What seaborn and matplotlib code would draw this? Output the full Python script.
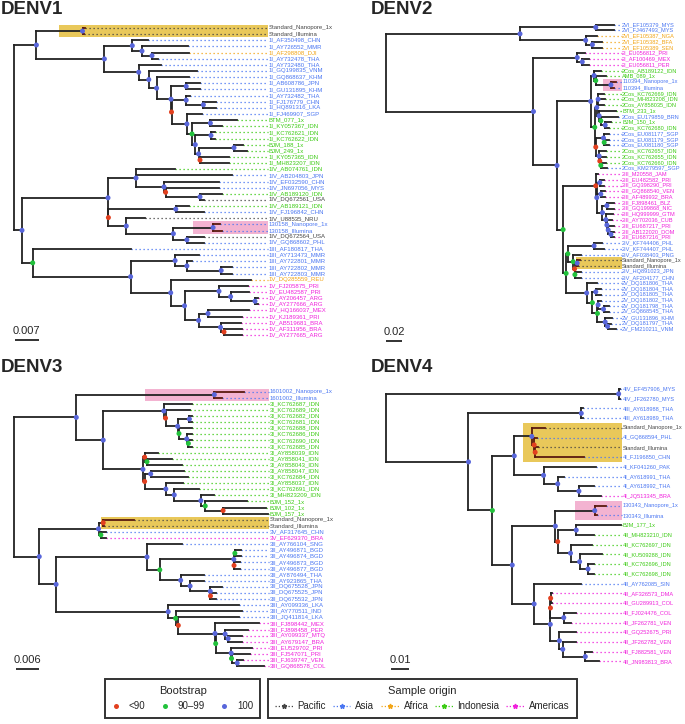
"""
Dengue virus phylogenies (DENV1-4): bootstrap support at nodes,
tip labels coloured by sample origin, study samples highlighted.
"""
import re

import matplotlib
matplotlib.use('Agg')
import matplotlib.pyplot as plt
import pandas as pd
import seaborn as sns
from matplotlib.collections import LineCollection
from matplotlib.lines import Line2D
from matplotlib.patches import Rectangle

# ---------------------------------------------------------------------------
# Data: trees in Newick; internal node label = bootstrap class
# (r: <90, g: 90-99, b: 100). Branch lengths in tree units, see SCALE_*.
# ---------------------------------------------------------------------------
DENV1_TREE = (
    "(((Standard_Nanopore_1x:2.5,Standard_Illumina:1.5)b:46.1,"
    "((1I_AF350498_CHN:15.7,(1I_AY726552_MMR:45.5,(1I_AF298808_DJI:36.5,1I_AY732478_THA:6)b:10)b:9.7)b:27.9,"
    "(1I_AY732480_THA:22.3,(1I_GQ199835_VNM:48.2,(1I_GQ868637_KHM:31.9,"
    "((1I_AB608786_JPN:13.8,1I_GU131895_KHM:13.8)b:15.2,"
    "((1I_AY732482_THA:3.4,(1I_FJ176779_CHN:12.1,1I_HQ891316_LKA:12.1)b:17.2)b:14.7,"
    "(1I_FJ469907_SGP:15.1,"
    "((BTM_077_1x:26.6,1I_KY057367_IDN:11.6)b:18.4,"
    "((1I_KC762621_IDN:4,1I_KC762622_IDN:4)b:15.7,"
    "((BJM_188_1x:9,BJM_249_1x:13)b:35.4,(1I_KY057365_IDN:29,1I_MH823207_IDN:29)r:1.4)b:3.3"
    ")b:3.3)g:5.1)b:15.4)r:0.5)b:14.4)b:7.8)b:10.1)b:34.3)b:68)b:22.4,"
    "(((1IV_AB074761_IDN:39,1IV_AB204803_JPN:96,(1IV_EF032590_CHN:55,(1IV_JN697056_MYS:53.4,"
    "(1IV_AB189120_IDN:22,1IV_DQ672561_USA:4)b:34.4)r:1.6)b:28)b:28,"
    "((1IV_AB189121_IDN:12.7,1IV_FJ196842_CHN:28.2)b:67.4,"
    "(1IV_U88535_NRU:18.5,((130158_Nanopore_1x:6.9,130158_Illumina:8.9)b:39.7,"
    "(1IV_DQ672564_USA:17.1,1IV_GQ868602_PHL:17.1)b:13.5)b:47.1)b:17.9)r:0.4)b:86,"
    "(1III_AF180817_THA:98.3,"
    "((1III_AY713473_MMR:23.9,(1III_AY722801_MMR:5.1,(1III_AY722802_MMR:10.8,1III_AY722803_MMR:10.8)b:34.3)b:11.8)b:44.5,"
    "(1V_DQ285559_REU:80.3,"
    "((1V_FJ205875_PRI:28.5,(1V_EU482587_PRI:18.4,(1V_AY206457_ARG:2.5,1V_AY277666_ARG:2.5)b:24.4)b:11.6)b:34.5,"
    "((1IV_HQ166037_MEX:41,1V_KJ189361_PRI:34)b:9.4,"
    "(1V_AB519681_BRA:20.5,(1V_AF311956_BRA:18,1V_AY277665_ARG:18)r:3.5)b:21.9)b:14.1"
    ")b:13.8)b:40.1)b:97.9)g:10.7)b:8);"
)

DENV2_TREE = (
    "(((2VI_EF105379_MYS:55,2VI_FJ467493_MYS:55)b:225,"
    "(2VI_EF105387_NGA:35,(2VI_EF105382_BFA:30,2VI_EF105389_SEN:30)b:20)b:195)b:398,"
    "((2I_EU056812_PRI:22,(2I_AF100469_MEX:20,2I_EU056811_PER:20)b:15)b:130,"
    "(((2Cos_AB189122_IDN:20,(AMB_089_1x:30,(110394_Nanopore_1x:15,110394_Illumina:8)b:45)g:5)b:10,"
    "(((2Cos_KC762669_IDN:18,2Cos_MH823208_IDN:20,2Cos_AY858035_IDN:18)b:4,"
    "(BTM_233_1x:50,(2Cos_EU179859_BRN:50,(BJM_150_1x:17,2Cos_KC762680_IDN:12)b:13)g:5)b:7)b:6,"
    "((2Cos_EU081177_SGP:17,(2Cos_EU081179_SGP:15,2Cos_EU081180_SGP:15)g:2)b:23,"
    "(2Cos_KC762657_IDN:20,(2Cos_KC762655_IDN:18,(2Cos_KC762660_IDN:15,2Cos_KM279597_SGP:18)g:3)r:2)b:10)r:3"
    ")g:12)b:100,"
    "((2III_M20558_JAM:7,((2III_EU482582_PRI:11,2III_GQ398290_PRI:11)b:9,"
    "(2III_GQ868540_VEN:12,2III_AF489932_BRA:12)b:12,"
    "((2III_FJ898461_BLZ:22,2III_GQ199868_NIC:22)b:13,(2III_HQ999999_GTM:20,(2III_AY702036_CUB:14,"
    "(2III_EU687217_PRI:16,(2III_AB122020_DOM:10,2III_EU687216_PRI:10)b:8)b:4)b:3)b:10)b:17)b:3)r:97,"
    "(((2IV_KF744406_PHL:25,2IV_KF744407_PHL:28)b:78,"
    "(2IV_AF038403_PNG:22,((Standard_Nanopore_1x:7,Standard_Illumina:3)b:8,"
    "(2IV_HQ891023_JPN:17,2IV_AF204177_CHN:17)g:1)r:4)g:16)g:5,"
    "(2V_DQ181806_THA:32,((2V_DQ181804_THA:17,2V_DQ181805_THA:17)b:10,"
    "((2V_DQ181802_THA:10,(2V_DQ181798_THA:17,2V_GQ868545_THA:17)b:16)b:2,"
    "(2V_GU131896_KHM:19,(2V_DQ181797_THA:10,2V_FM210211_VNM:25)b:7)b:23)g:15)g:17)b:61"
    ")g:9)g:18)b:70)b:438);"
)

DENV3_TREE = (
    "(((1601002_Nanopore_1x:88,1601002_Illumina:23)b:410,"
    "((3I_KC762687_IDN:83,(3I_KC762689_IDN:73,((3I_KC762682_IDN:7,3I_KC762681_IDN:7)b:35,"
    "(3I_KC762688_IDN:38,(3I_KC762686_IDN:15,(3I_KC762690_IDN:10,3I_KC762685_IDN:10)g:5)b:23)g:4)b:36)r:5)b:180,"
    "((3I_AY858039_IDN:40,(3I_AY858041_IDN:75,3I_AY858043_IDN:103)g:7)r:5,"
    "((3I_AY858047_IDN:100,3I_KC762684_IDN:112)b:18,(3I_AY858037_IDN:52,(3I_KC762691_IDN:72,"
    "(3I_MH823209_IDN:40,(BJM_152_1x:125,(BJM_102_1x:127,BJM_157_1x:132)r:53)g:13)b:79)b:25)b:63)r:5"
    ")b:118)b:80)b:185,"
    "(((Standard_Nanopore_1x:91,Standard_Illumina:3)r:14,(3V_AF317645_CHN:15,3V_EF629370_BRA:15)g:7)b:176,"
    "((3II_AY766104_SNG:103,(((3II_AY496871_BGD:17,3II_AY496874_BGD:17)g:3,"
    "(3II_AY496873_BGD:18,3II_AY496877_BGD:18)r:0.5)b:220,"
    "(3II_AY876494_THA:68,(3II_AY923865_THA:40,(3II_DQ675528_JPN:35,"
    "(3II_DQ675525_JPN:15,3II_DQ675532_JPN:15)r:0.5)b:60)b:28)b:62)g:38)b:270,"
    "(3III_AY099336_LKA:210,(3III_AY770511_IND:198,(3III_JQ411814_LKA:180,(3III_FJ898442_MEX:131,"
    "((3III_FJ898458_PER:68,(3III_AY099337_MTQ:40,3III_AY679147_BRA:40)b:9)b:28,"
    "(3III_EU529702_PRI:63,(3III_FJ547071_PRI:56,(3III_FJ639747_VEN:17,3III_GQ868578_COL:79)b:17)g:1)b:46"
    ")g:2)b:109)r:8)g:22)b:333)b:50)b:75);"
)

DENV4_TREE = (
    "((4IV_EF457906_MYS:5,4IV_JF262780_MYS:5)b:691,"
    "((4III_AY618988_THA:6,4III_AY618989_THA:6)b:335,"
    "(((Standard_Nanopore_1x:40,(4I_GQ868594_PHL:8,(Standard_Illumina:7,4I_FJ196850_CHN:145)r:3)r:7)b:52,"
    "(4I_KF041260_PAK:155,(4I_AY618991_THA:18,(4I_AY618992_THA:45,4I_JQ513345_BRA:65)b:63)b:42)b:87)b:65,"
    "(((130343_Nanopore_1x:33,130343_Illumina:8)b:117,((BJM_177_1x:133,4II_MH823210_IDN:53)b:55,"
    "(4II_KC762697_IDN:65,(4II_KU509288_IDN:68,(4II_KC762696_IDN:18,4II_KC762698_IDN:18)b:25)b:27)b:38)r:7)b:128,"
    "(4II_AY762085_SIN:138,(((4II_AF326573_DMA:4,4II_GU289913_COL:4)r:0.5,"
    "(4II_FJ024476_COL:35,4II_JF262781_VEN:20)b:39.5)r:0.5,"
    "(4II_GQ252675_PRI:50,(4II_JF262782_VEN:40,(4II_FJ882581_VEN:21,4II_JN983813_BRA:41)b:67)b:10)b:27"
    ")b:48)b:65)b:59)g:71)b:245);"
)

# scale bars: (label, length in tree units)
SCALE_DENV1 = ('0.007', 23.6)
SCALE_DENV2 = ('0.02', 47.5)
SCALE_DENV3 = ('0.006', 70)
SCALE_DENV4 = ('0.01', 53.5)

# highlighted clades: (first tip, last tip, colour key)
HILIGHT_DENV1 = [('Standard_Nanopore_1x', 'Standard_Illumina', 'std'),
                 ('130158_Nanopore_1x', '130158_Illumina', 'sample')]
HILIGHT_DENV2 = [('110394_Nanopore_1x', '110394_Illumina', 'sample'),
                 ('Standard_Nanopore_1x', 'Standard_Illumina', 'std')]
HILIGHT_DENV3 = [('1601002_Nanopore_1x', '1601002_Illumina', 'sample'),
                 ('Standard_Nanopore_1x', 'Standard_Illumina', 'std')]
HILIGHT_DENV4 = [('Standard_Nanopore_1x', '4I_FJ196850_CHN', 'std'),
                 ('130343_Nanopore_1x', '130343_Illumina', 'sample')]

# sample origin by country code
ASIA = ['CHN', 'MMR', 'THA', 'VNM', 'KHM', 'JPN', 'LKA', 'SGP', 'MYS', 'PHL',
        'BRN', 'IND', 'BGD', 'SNG', 'PAK', 'SIN', 'PNG']
AFRICA = ['DJI', 'REU', 'NGA', 'BFA', 'SEN']
INDONESIA = ['IDN']
AMERICAS = ['PRI', 'ARG', 'MEX', 'BRA', 'PER', 'JAM', 'VEN', 'BLZ', 'NIC',
            'GTM', 'CUB', 'DOM', 'MTQ', 'COL', 'DMA']
PACIFIC = ['USA', 'NRU']

ORIGINS = ['Pacific', 'Asia', 'Africa', 'Indonesia', 'Americas']
BOOT_CLASSES = ['r', 'g', 'b']
BOOT_LABELS = ['<90', '90\u201399', '100']

# ---------------------------------------------------------------------------
# Styles / layout (reference pixels)
# ---------------------------------------------------------------------------
ORIGIN_COLORS = {'Pacific': '#444444', 'Asia': '#4a76f2', 'Africa': '#f2a516',
                 'Indonesia': '#3ccb14', 'Americas': '#f020dc'}
BOOT_COLORS = {'r': '#e2401f', 'g': '#22c23c', 'b': '#5866db'}
HL_COLORS = {'std': '#e9c85a', 'sample': '#f3b3d1'}
HL_BRANCH = '#5a1a0e'
W, H = 685, 724

PANELS = [
    dict(name='DENV1', tree=DENV1_TREE, hl=HILIGHT_DENV1, scale=SCALE_DENV1,
         box=(0, 0, 345, 362), root=14, tip0=28, step=6.14, px=1.0,
         label_at=254, fs=4.35, bar=(15, 340), title=(0, 0)),
    dict(name='DENV2', tree=DENV2_TREE, hl=HILIGHT_DENV2, scale=SCALE_DENV2,
         box=(345, 0, 685, 362), root=386, tip0=24.5, step=5.75, px=1 / 2.97,
         label_at=700, fs=4.1, bar=(386, 341), title=(370, 0)),
    dict(name='DENV3', tree=DENV3_TREE, hl=HILIGHT_DENV3, scale=SCALE_DENV3,
         box=(0, 362, 345, 676), root=14, tip0=391.6, step=6.1, px=1 / 2.97,
         label_at=758, fs=4.35, bar=(15.5, 669), title=(0, 358)),
    dict(name='DENV4', tree=DENV4_TREE, hl=HILIGHT_DENV4, scale=SCALE_DENV4,
         box=(345, 362, 685, 676), root=386, tip0=389, step=9.73, px=1 / 2.97,
         label_at=702, fs=4.1, bar=(391, 669), title=(370, 358)),
]


def parse_newick(s):
    s = re.sub(r'\s+', '', s).rstrip(';')
    pos = 0

    def node():
        nonlocal pos
        n = {'children': [], 'name': '', 'len': 0.0}
        if s[pos] == '(':
            pos += 1
            while True:
                n['children'].append(node())
                if s[pos] == ',':
                    pos += 1
                    continue
                pos += 1
                break
        m = re.match(r'[^:,()]*', s[pos:])
        n['name'] = m.group(0)
        pos += m.end()
        if pos < len(s) and s[pos] == ':':
            m = re.match(r':([0-9.]+)', s[pos:])
            n['len'] = float(m.group(1))
            pos += m.end()
        return n

    return node()


def layout(root):
    tips, nodes = [], []

    def walk(n, parent):
        n['parent'] = parent
        n['x'] = (parent['x'] if parent else 0.0) + n['len']
        nodes.append(n)
        if not n['children']:
            n['y'] = float(len(tips))
            n['tips'] = [n['name']]
            tips.append(n)
        else:
            for c in n['children']:
                walk(c, n)
            n['y'] = (n['children'][0]['y'] + n['children'][-1]['y']) / 2
            n['tips'] = [t for c in n['children'] for t in c['tips']]

    walk(root, None)
    return tips, nodes


def origin_of(name):
    if name.startswith('Standard'):
        return 'Pacific'
    if name[:3] in ('BTM', 'BJM', 'AMB'):
        return 'Indonesia'
    if name.split('_')[0].isdigit():
        return 'Asia'
    code = name.split('_')[-1]
    for org, codes in zip(ORIGINS, [PACIFIC, ASIA, AFRICA, INDONESIA, AMERICAS]):
        if code in codes:
            return org
    return 'Pacific'


def mark_subtree(n):
    n['hl'] = True
    for c in n['children']:
        mark_subtree(c)


def draw_panel(fig, cfg):
    root = parse_newick(cfg['tree'])
    tips, nodes = layout(root)
    x0, y0, x1, y1 = cfg['box']
    k = 1 / cfg['px']                      # tree units per pixel
    ax = fig.add_axes([x0 / W, 1 - y1 / H, (x1 - x0) / W, (y1 - y0) / H])
    ax.set_xlim((x0 - cfg['root']) * k, (x1 - cfg['root']) * k)
    ax.set_ylim((y1 - cfg['tip0']) / cfg['step'], (y0 - cfg['tip0']) / cfg['step'])
    ax.axis('off')
    lab_x = cfg['label_at']

    # highlighted clades
    for first, last, key in cfg['hl']:
        mrca = min((n for n in nodes if first in n['tips'] and last in n['tips']),
                   key=lambda n: len(n['tips']))
        mark_subtree(mrca)
        ys = [t['y'] for t in tips if t['name'] in mrca['tips']]
        xs = (mrca['parent']['x'] + mrca['x']) / 2
        ax.add_patch(Rectangle((xs, min(ys) - 0.5), lab_x - xs, max(ys) - min(ys) + 1,
                               facecolor=HL_COLORS[key], lw=0, zorder=0))

    # branches
    segs, cols = [], []
    for n in nodes:
        if not n['children']:
            continue
        col = HL_BRANCH if n.get('hl') else '#222222'
        segs.append([(n['x'], n['children'][0]['y']), (n['x'], n['children'][-1]['y'])])
        cols.append(col)
        for c in n['children']:
            segs.append([(n['x'], c['y']), (c['x'], c['y'])])
            cols.append(col)
    ax.add_collection(LineCollection(segs, colors=cols, linewidths=1.3,
                                     capstyle='projecting', zorder=2))

    # dotted leaders + tip labels
    dsegs, dcols = [], []
    for t in tips:
        col = ORIGIN_COLORS[origin_of(t['name'])]
        if t['x'] < lab_x:
            dsegs.append([(t['x'], t['y']), (lab_x, t['y'])])
            dcols.append(col)
        ax.text(lab_x + 0.5 * k, t['y'], t['name'], fontsize=cfg['fs'], color=col,
                va='center', ha='left', zorder=3)
    ax.add_collection(LineCollection(dsegs, colors=dcols, linewidths=0.9,
                                     linestyles=[(0, (1, 2.2))], zorder=1))

    # bootstrap dots
    df = pd.DataFrame([{'x': n['x'], 'y': n['y'], 'boot': n['name']}
                       for n in nodes if n['children'] and n is not root])
    sns.scatterplot(data=df, x='x', y='y', hue='boot', hue_order=BOOT_CLASSES,
                    palette=BOOT_COLORS, s=13, linewidth=0, legend=False,
                    ax=ax, zorder=4)
    ax.set_xlabel('')
    ax.set_ylabel('')
    ax.axis('off')

    # scale bar
    txt, length = cfg['scale']
    bx = (cfg['bar'][0] - cfg['root']) * k
    by = (cfg['bar'][1] - cfg['tip0']) / cfg['step']
    ax.plot([bx, bx + length], [by, by], color='#222222', lw=1.3, solid_capstyle='butt')
    ax.text(bx + length / 2, by - 4 / cfg['step'], txt, fontsize=8,
            ha='center', va='bottom')

    fig.text((cfg['title'][0] + 1) / W, 1 - (cfg['title'][1] + 1) / H, cfg['name'],
             fontsize=13.5, fontweight='bold', ha='left', va='top')


sns.set_style('white')
plt.rcParams['font.family'] = ['Liberation Sans', 'DejaVu Sans']

fig = plt.figure(figsize=(W / 100, H / 100), dpi=100)
for cfg in PANELS:
    draw_panel(fig, cfg)

# legends
boot_handles = [Line2D([0], [0], ls='none', marker='o', ms=3.6, mew=0,
                       mfc=BOOT_COLORS[c]) for c in BOOT_CLASSES]
leg1 = fig.legend(boot_handles, BOOT_LABELS, title='Bootstrap', ncol=3,
                  loc='upper left', bbox_to_anchor=(105 / W, 1 - 679 / H),
                  frameon=True, fancybox=False, edgecolor='black', fontsize=7,
                  title_fontsize=8, handlelength=0.8, handletextpad=0.9,
                  columnspacing=1.6, borderpad=0.75, borderaxespad=0)
leg1.get_frame().set_linewidth(1.4)

origin_handles = [Line2D([0], [0], color=ORIGIN_COLORS[o], lw=0.9,
                         ls=(0, (1, 1.6)), marker='*', ms=3.5) for o in ORIGINS]
leg2 = fig.legend(origin_handles, ORIGINS, title='Sample origin', ncol=5,
                  loc='upper left', bbox_to_anchor=(268 / W, 1 - 679 / H),
                  frameon=True, fancybox=False, edgecolor='black', fontsize=7,
                  title_fontsize=8, handlelength=1.8, handletextpad=0.5,
                  columnspacing=0.7, borderpad=0.75, borderaxespad=0)
leg2.get_frame().set_linewidth(1.4)

fig.savefig('out.png', dpi=100, facecolor='white')
